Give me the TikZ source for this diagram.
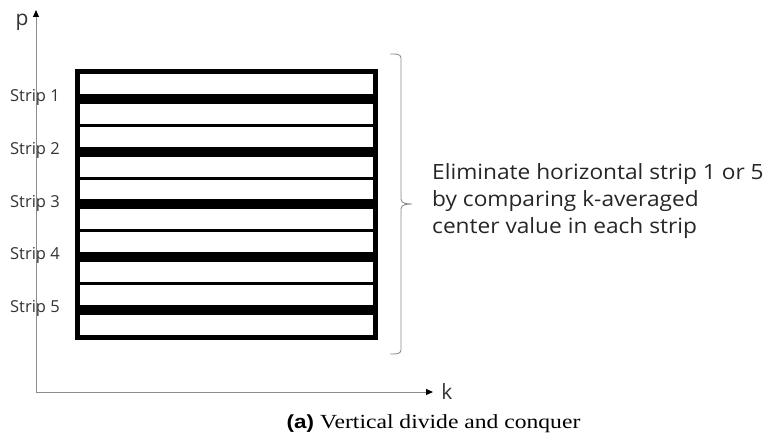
\documentclass[tikz,border=0pt]{standalone}
\usepackage{fontspec}
\setmainfont{Open Sans}
\newfontfamily\capserif{Liberation Serif}
\newfontfamily\capsans{Liberation Sans}
\usetikzlibrary{arrows.meta}

\begin{document}
\begin{tikzpicture}[x=1pt,y=-1pt,
  axisline/.style={draw=black!45, line width=1pt,
    -{Triangle[length=7pt,width=6pt,color=black,fill=black]}},
  stripbox/.style={draw=black, line width=3pt, minimum width=296pt,
    minimum height=52.8pt, inner sep=0pt, anchor=north west},
  band/.style={fill=black},
  striplabel/.style={font=\fontsize{16.5}{20}\selectfont, text=black!80, inner sep=0pt},
  axislabel/.style={font=\fontsize{21}{24}\selectfont, text=black!80, inner sep=0pt},
  note/.style={font=\fontsize{21}{27}\selectfont, text=black!85, align=left, anchor=west, inner sep=0pt, transform shape},
  bracepath/.style={draw=black!45, line width=0.9pt}
]
\useasboundingbox (0,0) rectangle (772,441);

% five stacked strips, each with a thick centre band
\foreach \i in {1,...,5}{
  \node[stripbox] (s\i) at (77,{71+52.8*(\i-1)}) {};
  \fill[band] ([yshift=5pt]s\i.west) rectangle ([yshift=-5pt]s\i.east);
  \node[striplabel] (l\i) at (35,{71+52.8*(\i-1)+26.4}) {Strip \i};
}
% outer frame
\draw[line width=3.5pt] (s1.north west) rectangle (s5.south east);

% axes
\coordinate (o) at (36,392);
\coordinate (ptip) at (36,10);
\coordinate (ktip) at (433,392);
\draw[axisline] (o) -- (ptip);
\draw[axisline] (o) -- (ktip);
\node[axislabel] (p) at (22,22) {p};
\node[axislabel] (k) at (447,392) {k};

% right-hand brace spanning all strips
\coordinate (btop) at (390,54);
\coordinate (bbot) at (390,354);
\coordinate (btip) at (412,204);
\draw[bracepath] (btop) to[out=0,in=90] (401,58) -- (401,199)
  to[out=-90,in=180] (btip) to[out=180,in=90] (401,209) -- (401,350)
  to[out=-90,in=0] (bbot);

% explanatory note
\begin{scope}[shift={(432,201)}, xscale=1.08]
\node[note] (txt) at (0,0) {Eliminate horizontal strip 1 or 5\\by comparing k-averaged\\center value in each strip};
\end{scope}

% caption
\begin{scope}[shift={(433.5,428)}, xscale=1.18]
\node[inner sep=0pt, anchor=base, transform shape, font=\fontsize{20}{24}\selectfont] (cap) at (0,0)
  {{\capsans\bfseries\fontsize{19}{24}\selectfont (a)} \capserif Vertical divide and conquer};
\end{scope}
\end{tikzpicture}
\end{document}
